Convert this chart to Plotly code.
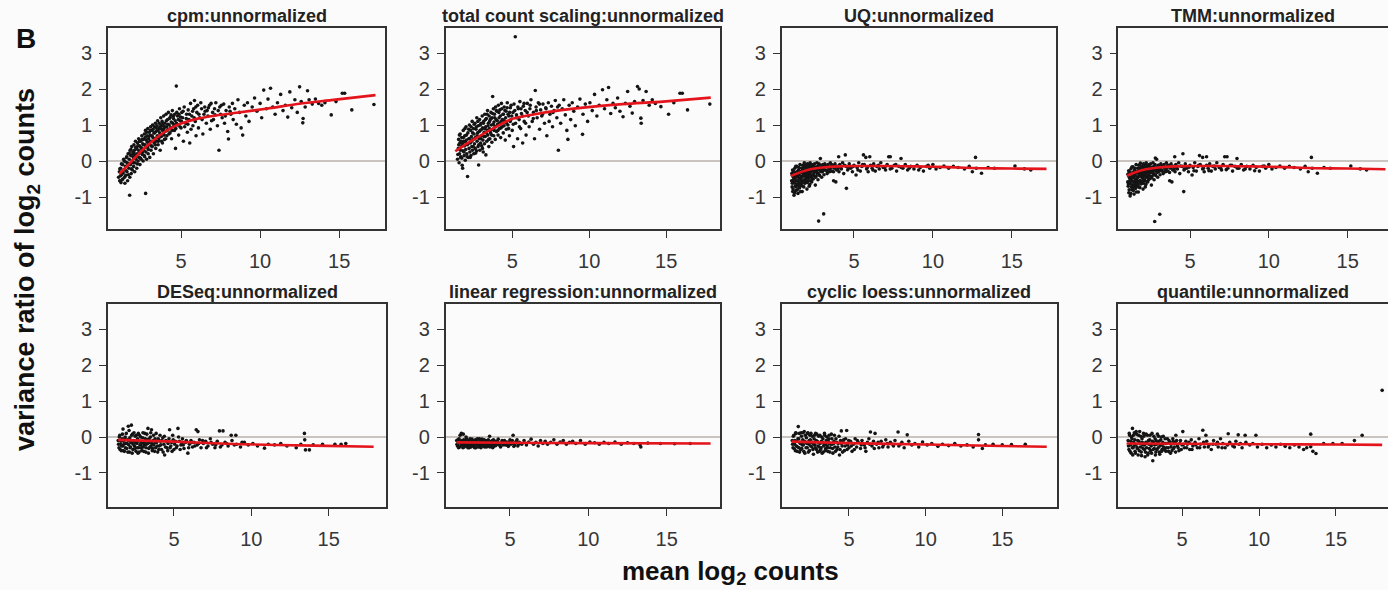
import plotly.graph_objects as go

# ---------------------------------------------------------------- data
panel_titles = [
    "cpm:unnormalized", "total count scaling:unnormalized",
    "UQ:unnormalized", "TMM:unnormalized",
    "DESeq:unnormalized", "linear regression:unnormalized",
    "cyclic loess:unnormalized", "quantile:unnormalized",
]

x_tick_vals = [5, 10, 15]
x_tick_text = ["5", "10", "15"]
y_tick_vals = [-1, 0, 1, 2, 3]
y_tick_text = ["-1", "0", "1", "2", "3"]

# (mean log2 count, variance ratio of log2 counts) per gene
cpm_points = [
    (1.05,-0.45),(1.1,-0.3),(1.12,-0.55),(1.18,-0.2),(1.2,-0.6),(1.25,-0.38),(1.3,-0.1),(1.32,-0.5),
    (1.38,-0.25),(1.4,0.0),(1.45,-0.62),(1.48,-0.15),(1.5,-0.4),(1.55,0.1),(1.58,-0.3),(1.6,-0.05),
    (1.62,-0.55),(1.65,0.2),(1.7,-0.2),(1.72,0.05),(1.75,-0.95),(1.76,-0.45),(1.78,0.3),(1.8,-0.1),
    (1.82,0.15),(1.85,-0.35),(1.88,0.4),(1.9,0.0),(1.92,-0.25),(1.95,0.25),(1.98,0.1),(2.0,-0.15),
    (2.02,0.45),(2.05,0.3),(2.08,-0.05),(2.1,0.15),(2.12,0.55),(2.15,0.05),(2.18,0.35),(2.2,-0.2),
    (2.22,0.2),(2.25,0.5),(2.28,0.0),(2.3,0.3),(2.32,0.62),(2.35,0.1),(2.38,0.42),(2.4,-0.1),
    (2.42,0.25),(2.45,0.55),(2.48,0.05),(2.5,0.35),(2.52,0.7),(2.55,0.18),(2.58,0.48),(2.6,0.0),
    (2.62,0.6),(2.65,0.3),(2.68,0.75),(2.7,0.12),(2.72,0.45),(2.75,0.85),(2.76,-0.9),(2.78,0.25),
    (2.8,0.58),(2.82,0.05),(2.85,0.7),(2.88,0.38),(2.9,0.9),(2.92,0.2),(2.95,0.62),(2.98,0.8),
    (3.0,0.45),(3.02,0.1),(3.05,0.72),(3.08,0.95),(3.1,0.3),(3.12,0.55),(3.15,0.85),(3.18,0.4),
    (3.2,1.0),(3.22,0.65),(3.25,0.2),(3.28,0.78),(3.3,0.5),(3.32,0.95),(3.35,0.62),(3.38,1.05),
    (3.4,0.35),(3.42,0.82),(3.45,0.55),(3.48,0.98),(3.5,0.7),(3.52,1.12),(3.55,0.45),(3.58,0.88),
    (3.6,0.62),(3.62,1.05),(3.65,0.78),(3.68,0.3),(3.7,0.95),(3.72,1.2),(3.75,0.68),(3.78,0.88),
    (3.8,1.1),(3.82,0.5),(3.85,0.98),(3.88,0.75),(3.9,1.25),(3.92,0.9),(3.95,0.6),(3.98,1.05),
    (4.0,0.82),(4.05,1.3),(4.08,0.95),(4.1,0.7),(4.15,1.15),(4.18,0.88),(4.2,1.35),(4.25,1.0),
    (4.3,0.78),(4.32,1.22),(4.38,1.08),(4.4,0.62),(4.45,1.4),(4.5,0.95),(4.52,1.18),(4.58,0.85),
    (4.6,1.3),(4.65,0.35),(4.7,2.08),(4.72,1.05),(4.78,1.25),(4.85,0.72),(4.9,1.45),(4.95,1.12),
    (5.0,0.92),(5.05,1.35),(5.1,1.2),(5.15,0.55),(5.2,1.5),(5.28,1.05),(5.35,1.3),(5.4,0.8),
    (5.45,1.42),(5.5,1.15),(5.55,0.5),(5.6,1.6),(5.68,1.25),(5.75,0.98),(5.8,1.45),(5.85,1.68),
    (5.9,1.1),(5.95,0.7),(6.0,1.35),(6.05,1.55),(6.1,0.92),(6.18,1.2),(6.25,1.62),(6.3,1.45),
    (6.38,0.75),(6.45,1.3),(6.5,1.5),(6.6,1.05),(6.65,1.4),(6.7,1.25),(6.8,1.55),(6.85,0.88),
    (6.9,1.6),(7.0,1.35),(7.05,1.15),(7.12,1.45),(7.2,1.62),(7.3,0.98),(7.4,0.30),(7.45,1.5),
    (7.5,1.3),(7.6,1.2),(7.7,1.58),(7.75,1.05),(7.85,1.4),(7.95,0.82),(8.0,0.61),(8.05,1.5),
    (8.15,1.3),(8.25,1.6),(8.3,1.15),(8.4,1.45),(8.5,1.02),(8.6,1.7),(8.7,1.35),(8.8,0.92),
    (8.9,0.72),(9.0,1.55),(9.1,1.25),(9.2,1.62),(9.3,1.1),(9.5,1.5),(9.65,1.75),(9.8,1.38),
    (10.0,1.6),(10.1,1.2),(10.23,1.97),(10.4,1.45),(10.5,1.72),(10.66,2.02),(10.8,1.5),(10.95,1.3),
    (11.1,1.62),(11.3,1.85),(11.45,1.4),(11.6,1.55),(11.75,1.22),(11.88,1.92),(12.0,1.48),(12.2,1.7),
    (12.35,1.35),(12.5,2.06),(12.6,1.65),(12.7,1.06),(12.72,1.18),(12.85,1.5),(13.0,1.95),(13.1,1.7),
    (13.3,1.58),(13.5,1.72),(13.7,1.6),(13.9,1.55),(14.1,1.62),(14.5,1.28),(14.8,1.65),(15.2,1.88),
    (15.35,1.88),(15.8,1.42),(17.2,1.57),
    (1.13,-0.22),(1.17,-0.41),(1.23,-0.08),(1.27,-0.52),(1.34,-0.33),(1.37,0.05),(1.43,-0.45),(1.47,-0.02),
    (1.53,-0.27),(1.57,0.12),(1.63,-0.12),(1.67,-0.38),(1.73,0.22),(1.77,-0.08),(1.83,0.32),(1.87,-0.22),
    (1.93,0.18),(1.97,-0.05),(2.03,0.22),(2.07,-0.3),(2.13,0.38),(2.17,0.12),(2.23,-0.08),(2.27,0.42),
    (2.33,0.2),(2.37,0.55),(2.43,0.08),(2.47,0.38),(2.53,0.6),(2.57,0.25),(2.63,0.45),(2.67,0.15),
    (2.73,0.65),(2.77,0.38),(2.83,0.8),(2.87,0.52),(2.93,0.32),(2.97,0.68),(3.03,0.55),(3.07,0.85),
    (3.13,0.42),(3.17,0.7),(3.23,0.88),(3.27,0.55),(3.33,0.78),(3.37,0.45),(3.43,0.92),(3.47,0.65),
    (3.53,0.85),(3.57,0.55),(3.63,0.92),(3.67,0.7),(3.73,1.0),(3.77,0.55),(3.83,0.85),(3.87,1.05),
    (3.93,0.72),(3.97,0.95),(4.03,0.62),(4.07,1.12),(4.13,0.85),(4.17,1.02),(4.23,0.75),(4.27,1.18),
    (4.33,0.92),(4.37,1.28),(4.43,0.85),(4.47,1.05),(4.53,1.25),(4.57,1.0),(4.63,1.12),(4.67,0.9),
    (4.73,1.35),(4.77,1.0),(4.83,1.15),(4.87,1.3),(4.93,0.95),(4.97,1.22),(5.03,1.1),(5.13,1.38),
    (5.23,0.95),(5.33,1.18),(5.43,1.02),(5.53,1.3),(5.63,0.88),(5.73,1.38),(5.83,1.2),(5.93,1.5),
    (6.13,1.3),(6.33,1.15),(6.53,1.38),(6.73,1.48),(6.93,1.12),(7.15,1.28),(7.35,1.4),(7.55,1.55),
    (7.8,1.25),(8.1,1.38),
]

total_points = [
    (1.45,0.05),(1.5,0.35),(1.52,0.6),(1.55,-0.05),(1.58,0.2),(1.6,0.5),(1.62,0.75),(1.65,0.1),
    (1.67,0.12),(1.7,0.4),(1.72,0.65),(1.75,-0.12),(1.78,-0.2),(1.8,0.28),(1.82,0.85),(1.85,0.55),
    (1.88,0.15),(1.9,0.42),(1.92,0.7),(1.95,0.02),(1.98,0.32),(2.0,0.95),(2.02,0.58),(2.05,0.2),
    (2.08,0.45),(2.1,-0.43),(2.12,0.78),(2.15,0.1),(2.18,0.62),(2.2,0.35),(2.22,1.0),(2.25,0.25),
    (2.28,0.5),(2.3,0.85),(2.32,0.15),(2.35,0.68),(2.38,0.4),(2.4,1.1),(2.42,0.3),(2.45,0.6),
    (2.48,0.9),(2.5,0.2),(2.52,0.75),(2.55,0.48),(2.58,1.05),(2.6,0.35),(2.62,0.65),(2.65,0.88),
    (2.68,0.28),(2.7,1.2),(2.72,0.55),(2.75,0.78),(2.78,0.4),(2.8,0.98),(2.82,-0.11),(2.85,0.62),
    (2.88,1.15),(2.9,0.3),(2.92,0.85),(2.95,0.5),(2.98,1.05),(3.0,0.7),(3.02,0.42),(3.05,1.25),
    (3.08,0.92),(3.1,0.58),(3.12,0.25),(3.15,1.1),(3.18,0.8),(3.2,0.48),(3.22,1.3),(3.25,0.68),
    (3.28,0.95),(3.29,0.17),(3.32,1.18),(3.35,0.55),(3.38,0.85),(3.4,1.4),(3.42,0.72),(3.45,1.05),
    (3.48,0.4),(3.5,1.25),(3.52,0.9),(3.55,0.62),(3.58,1.15),(3.6,0.78),(3.62,1.35),(3.65,1.0),
    (3.68,0.52),(3.7,1.2),(3.73,1.79),(3.75,0.88),(3.78,1.45),(3.8,0.7),(3.82,1.08),(3.85,1.3),
    (3.88,0.95),(3.9,0.6),(3.92,1.5),(3.95,1.15),(3.98,0.82),(4.0,1.38),(4.05,1.02),(4.08,0.72),
    (4.1,1.55),(4.15,1.2),(4.18,0.9),(4.2,1.42),(4.25,0.65),(4.28,1.1),(4.3,1.6),(4.35,0.95),
    (4.4,1.3),(4.42,0.78),(4.48,1.5),(4.5,1.12),(4.55,0.58),(4.6,1.38),(4.62,0.88),(4.68,1.62),
    (4.72,1.0),(4.78,1.25),(4.82,0.7),(4.88,1.48),(4.92,1.15),(5.0,0.85),(5.05,1.35),(5.09,0.40),
    (5.12,1.58),(5.2,3.45),(5.22,1.05),(5.28,1.28),(5.35,0.62),(5.4,1.45),(5.45,1.15),(5.5,1.65),
    (5.55,0.9),(5.6,1.32),(5.68,0.5),(5.72,1.52),(5.78,1.1),(5.85,1.4),(5.9,0.72),(5.98,1.6),
    (6.05,1.25),(6.1,0.95),(6.15,1.45),(6.22,1.7),(6.3,1.1),(6.38,1.35),(6.45,0.62),(6.5,1.96),
    (6.55,1.5),(6.62,1.2),(6.7,1.62),(6.78,0.88),(6.85,1.42),(6.92,1.25),(7.0,1.58),(7.1,1.05),
    (7.18,1.48),(7.25,0.7),(7.35,1.62),(7.45,1.3),(7.55,1.52),(7.62,0.95),(7.72,1.4),(7.8,1.68),
    (7.9,1.2),(8.0,0.30),(8.05,1.55),(8.15,1.05),(8.25,1.45),(8.35,1.7),(8.45,1.28),(8.55,0.85),
    (8.62,0.60),(8.7,1.55),(8.8,1.15),(8.9,1.62),(9.0,1.38),(9.1,0.98),(9.25,1.5),(9.4,1.72),
    (9.57,0.74),(9.6,1.3),(9.75,1.58),(9.9,1.1),(10.05,1.62),(10.2,1.4),(10.35,1.85),(10.5,1.25),
    (10.65,1.55),(10.87,1.98),(11.0,1.45),(11.15,1.7),(11.26,2.04),(11.4,1.32),(11.55,1.6),(11.7,1.48),
    (11.85,1.75),(12.0,1.38),(12.2,1.23),(12.35,1.6),(12.5,1.93),(12.65,1.52),(12.8,1.33),(12.95,1.65),
    (13.14,2.07),(13.25,2.0),(13.36,1.19),(13.38,1.05),(13.5,1.68),(13.7,1.93),(13.9,1.55),(14.1,1.70),
    (14.3,1.6),(14.66,1.51),(15.16,1.30),(15.5,1.62),(15.9,1.88),(16.05,1.88),(16.39,1.42),(17.84,1.58),
    (1.47,0.18),(1.53,0.45),(1.57,0.72),(1.63,0.3),(1.68,0.55),(1.73,0.08),(1.77,0.48),(1.83,0.65),
    (1.87,0.25),(1.93,0.9),(1.97,0.52),(2.03,0.72),(2.07,0.12),(2.13,0.48),(2.17,0.88),(2.23,0.62),
    (2.27,0.1),(2.33,0.95),(2.37,0.55),(2.43,0.78),(2.47,0.4),(2.53,1.02),(2.57,0.62),(2.63,0.22),
    (2.67,0.95),(2.73,0.7),(2.77,1.1),(2.83,0.45),(2.87,0.82),(2.93,1.0),(2.97,0.62),(3.03,0.88),
    (3.07,0.35),(3.13,1.05),(3.17,0.68),(3.23,0.9),(3.27,1.15),(3.33,0.78),(3.37,1.3),(3.43,0.98),
    (3.47,0.6),(3.53,1.1),(3.57,0.85),(3.63,1.18),(3.67,0.72),(3.73,1.32),(3.77,1.02),(3.83,0.85),
    (3.87,1.2),(3.93,0.95),(3.97,1.4),(4.03,1.12),(4.07,0.85),(4.13,1.35),(4.17,1.05),(4.23,1.25),
    (4.27,0.92),(4.33,1.45),(4.37,1.15),(4.43,1.3),(4.47,0.98),(4.53,1.4),(4.57,1.2),(4.63,1.05),
    (4.67,1.48),(4.73,1.3),(4.77,0.9),(4.83,1.35),(4.87,1.1),(4.93,1.55),(4.97,1.25),(5.07,1.02),
    (5.17,1.4),(5.27,1.2),(5.37,1.5),(5.47,0.95),(5.57,1.45),(5.67,1.25),(5.77,1.6),(5.87,1.05),
    (5.97,1.35),(6.17,1.55),(6.37,1.18),(6.57,1.4),(6.77,1.58),(6.97,1.3),(7.2,1.45),(7.4,1.1),
    (7.65,1.35),(7.95,1.5),
]

uq_points = [
    (1.05,-0.55),(1.08,-0.72),(1.1,-0.4),(1.12,-0.85),(1.15,-0.3),(1.18,-0.6),(1.2,-0.95),(1.22,-0.48),
    (1.25,-0.2),(1.28,-0.7),(1.3,-0.35),(1.32,-0.82),(1.35,-0.55),(1.38,-0.15),(1.4,-0.65),(1.42,-0.42),
    (1.45,-0.9),(1.48,-0.25),(1.5,-0.58),(1.52,-0.38),(1.55,-0.75),(1.58,-0.1),(1.6,-0.5),(1.62,-0.3),
    (1.65,-0.68),(1.68,-0.2),(1.7,-0.45),(1.72,-0.85),(1.75,-0.12),(1.78,-0.55),(1.8,-0.35),(1.82,-0.72),
    (1.85,-0.05),(1.88,-0.42),(1.9,-0.25),(1.92,-0.6),(1.95,-0.15),(1.98,-0.48),(2.0,-0.32),(2.02,-0.78),
    (2.05,-0.08),(2.08,-0.4),(2.1,-0.22),(2.12,-0.55),(2.15,-0.12),(2.18,-0.35),(2.2,-0.65),(2.22,-0.05),
    (2.25,-0.28),(2.28,-0.45),(2.3,-0.15),(2.32,-0.58),(2.35,-0.2),(2.38,-0.38),(2.4,-0.1),(2.42,-0.5),
    (2.45,-0.25),(2.48,-0.32),(2.5,-0.08),(2.55,-0.67),(2.58,-0.18),(2.6,-0.42),(2.62,-0.28),(2.65,-0.05),
    (2.68,-0.35),(2.7,-0.15),(2.72,-0.52),(2.75,-0.22),(2.76,-1.67),(2.8,-0.1),(2.82,-0.4),(2.85,-0.28),
    (2.87,0.07),(2.9,-0.18),(2.95,-0.45),(2.98,-0.12),(3.0,-0.3),(3.05,-0.2),(3.08,-1.47),(3.1,-0.38),
    (3.15,-0.08),(3.2,-0.25),(3.25,-0.15),(3.3,-0.35),(3.35,-0.1),(3.4,-0.22),(3.45,-0.3),(3.5,-0.05),
    (3.55,-0.18),(3.6,-0.28),(3.65,-0.12),(3.71,-0.55),(3.75,-0.2),(3.8,-0.08),(3.85,-0.58),(3.9,-0.25),
    (3.95,-0.15),(4.03,0.12),(4.05,-0.3),(4.1,-0.1),(4.2,-0.22),(4.28,-0.05),(4.35,-0.35),(4.45,0.17),
    (4.5,-0.15),(4.52,-0.76),(4.6,-0.25),(4.7,-0.08),(4.8,-0.2),(4.9,-0.3),(5.0,-0.12),(5.13,-0.39),
    (5.2,-0.18),(5.3,-0.05),(5.4,-0.28),(5.5,-0.15),(5.6,0.17),(5.65,-0.1),(5.75,0.1),(5.8,-0.22),
    (5.9,-0.3),(6.0,0.12),(6.05,-0.12),(6.15,-0.2),(6.25,-0.08),(6.35,-0.28),(6.45,-0.15),(6.6,-0.22),
    (6.7,-0.05),(6.85,-0.18),(7.0,-0.25),(7.1,-0.1),(7.2,0.12),(7.3,0.12),(7.4,-0.2),(7.55,-0.12),
    (7.7,-0.28),(7.85,-0.15),(7.98,0.07),(8.1,-0.2),(8.25,-0.1),(8.4,-0.25),(8.6,-0.15),(8.8,-0.22),
    (9.0,-0.12),(9.2,-0.18),(9.4,-0.28),(9.6,-0.15),(9.8,-0.2),(10.0,-0.1),(10.2,-0.22),(10.45,-0.18),
    (10.7,-0.14),(11.0,-0.2),(11.3,-0.15),(11.6,-0.18),(12.0,-0.22),(12.3,-0.15),(12.5,-0.3),(12.7,0.10),
    (12.75,-0.2),(13.08,-0.34),(13.5,-0.18),(13.9,-0.2),(15.2,-0.14),(15.8,-0.22),(16.2,-0.25),
    (1.06,-0.35),(1.09,-0.62),(1.11,-0.25),(1.14,-0.78),(1.16,-0.45),(1.19,-0.52),(1.21,-0.3),(1.24,-0.88),
    (1.26,-0.62),(1.29,-0.42),(1.31,-0.15),(1.34,-0.72),(1.36,-0.45),(1.39,-0.3),(1.41,-0.8),(1.44,-0.55),
    (1.46,-0.35),(1.49,-0.68),(1.51,-0.18),(1.54,-0.48),(1.56,-0.62),(1.59,-0.3),(1.61,-0.85),(1.64,-0.42),
    (1.66,-0.55),(1.69,-0.32),(1.71,-0.62),(1.74,-0.25),(1.76,-0.7),(1.79,-0.4),(1.81,-0.18),(1.84,-0.52),
    (1.86,-0.32),(1.89,-0.62),(1.91,-0.12),(1.94,-0.38),(1.96,-0.55),(1.99,-0.22),(2.01,-0.42),(2.04,-0.6),
    (2.06,-0.28),(2.09,-0.15),(2.11,-0.48),(2.14,-0.3),(2.16,-0.7),(2.19,-0.2),(2.21,-0.42),(2.24,-0.1),
    (2.26,-0.55),(2.29,-0.3),(2.31,-0.4),(2.34,-0.12),(2.36,-0.5),(2.39,-0.25),(2.44,-0.4),(2.47,-0.15),
    (2.52,-0.3),(2.57,-0.45),(2.63,-0.18),(2.67,-0.25),(2.73,-0.35),(2.78,-0.08),(2.84,-0.2),(2.92,-0.3),
    (2.97,-0.22),(3.03,-0.1),(3.12,-0.25),(3.18,-0.15),(3.28,-0.28),(3.38,-0.15),(3.48,-0.22),(3.58,-0.1),
    (3.7,-0.3),(3.82,-0.15),(3.98,-0.22),(4.15,-0.18),(4.4,-0.12),(4.65,-0.2),(4.95,-0.15),(5.25,-0.25),
    (5.55,-0.1),(5.85,-0.18),(6.2,-0.25),(6.55,-0.12),(6.95,-0.18),(7.3,-0.22),(7.65,-0.1),(8.0,-0.18),
    (8.5,-0.2),(9.1,-0.25),(9.7,-0.12),
]

tmm_points = [
    (1.05,-0.58),(1.08,-0.7),(1.1,-0.42),(1.12,-0.88),(1.15,-0.32),(1.18,-0.62),(1.2,-0.97),(1.22,-0.5),
    (1.25,-0.22),(1.28,-0.72),(1.3,-0.36),(1.32,-0.8),(1.35,-0.56),(1.38,-0.16),(1.4,-0.66),(1.42,-0.44),
    (1.45,-0.92),(1.48,-0.26),(1.5,-0.6),(1.52,-0.4),(1.55,-0.76),(1.58,-0.1),(1.6,-0.52),(1.62,-0.3),
    (1.65,-0.7),(1.68,-0.2),(1.7,-0.46),(1.72,-0.86),(1.75,-0.12),(1.78,-0.56),(1.8,-0.36),(1.82,-0.74),
    (1.85,-0.06),(1.88,-0.42),(1.9,-0.26),(1.92,-0.62),(1.95,-0.16),(1.98,-0.48),(2.0,-0.32),(2.02,-0.78),
    (2.05,-0.08),(2.08,-0.4),(2.1,-0.22),(2.12,-0.55),(2.15,-0.12),(2.18,-0.35),(2.2,-0.65),(2.22,-0.05),
    (2.25,-0.28),(2.28,-0.45),(2.3,-0.15),(2.32,-0.58),(2.35,-0.2),(2.38,-0.38),(2.4,-0.1),(2.42,-0.5),
    (2.45,-0.25),(2.48,-0.32),(2.5,-0.08),(2.55,-0.67),(2.58,-0.18),(2.6,-0.42),(2.62,-0.28),(2.65,-0.05),
    (2.68,-0.35),(2.7,-0.15),(2.72,-0.52),(2.75,-0.22),(2.76,-1.68),(2.8,0.08),(2.82,-0.4),(2.85,-0.28),
    (2.88,0.05),(2.9,-0.18),(2.95,-0.45),(2.98,-0.12),(3.0,-0.3),(3.05,-0.2),(3.08,-1.48),(3.1,-0.38),
    (3.15,-0.08),(3.2,-0.25),(3.25,-0.15),(3.3,-0.35),(3.35,-0.1),(3.4,-0.22),(3.45,-0.3),(3.5,-0.05),
    (3.55,-0.18),(3.6,-0.28),(3.65,-0.12),(3.71,-0.55),(3.75,-0.2),(3.8,-0.08),(3.85,-0.58),(3.9,-0.25),
    (3.95,-0.15),(4.03,0.12),(4.05,-0.3),(4.1,-0.1),(4.2,-0.22),(4.28,-0.05),(4.35,-0.35),(4.55,0.2),
    (4.5,-0.15),(4.6,-0.85),(4.62,-0.25),(4.7,-0.08),(4.8,-0.2),(4.9,-0.3),(5.0,-0.12),(5.13,-0.39),
    (5.2,-0.18),(5.3,-0.05),(5.4,-0.28),(5.5,-0.15),(5.6,0.15),(5.65,-0.1),(5.8,0.1),(5.8,-0.22),
    (5.9,-0.3),(6.05,0.12),(6.05,-0.12),(6.15,-0.2),(6.25,-0.08),(6.35,-0.28),(6.45,-0.15),(6.6,-0.22),
    (6.7,-0.05),(6.85,-0.18),(7.0,-0.25),(7.1,-0.1),(7.2,0.12),(7.35,0.12),(7.4,-0.2),(7.55,-0.12),
    (7.7,-0.28),(7.85,-0.15),(7.98,0.07),(8.1,-0.2),(8.25,-0.1),(8.4,-0.25),(8.6,-0.15),(8.8,-0.22),
    (9.0,-0.12),(9.2,-0.18),(9.4,-0.28),(9.6,-0.15),(9.8,-0.2),(10.0,-0.1),(10.2,-0.22),(10.45,-0.18),
    (10.7,-0.14),(11.0,-0.2),(11.3,-0.15),(11.6,-0.18),(12.0,-0.22),(12.3,-0.15),(12.5,-0.3),(12.7,0.10),
    (12.75,-0.2),(13.08,-0.34),(13.5,-0.18),(13.9,-0.2),(15.2,-0.14),(15.8,-0.22),(16.2,-0.25),
    (1.06,-0.37),(1.09,-0.64),(1.11,-0.27),(1.14,-0.8),(1.16,-0.47),(1.19,-0.54),(1.21,-0.32),(1.24,-0.9),
    (1.26,-0.64),(1.29,-0.44),(1.31,-0.17),(1.34,-0.74),(1.36,-0.47),(1.39,-0.32),(1.41,-0.82),(1.44,-0.57),
    (1.46,-0.37),(1.49,-0.7),(1.51,-0.2),(1.54,-0.5),(1.56,-0.64),(1.59,-0.32),(1.61,-0.86),(1.64,-0.44),
    (1.66,-0.57),(1.69,-0.34),(1.71,-0.64),(1.74,-0.27),(1.76,-0.72),(1.79,-0.42),(1.81,-0.2),(1.84,-0.54),
    (1.86,-0.34),(1.89,-0.64),(1.91,-0.14),(1.94,-0.4),(1.96,-0.57),(1.99,-0.24),(2.01,-0.44),(2.04,-0.62),
    (2.06,-0.3),(2.09,-0.17),(2.11,-0.5),(2.14,-0.32),(2.16,-0.72),(2.19,-0.22),(2.21,-0.44),(2.24,-0.12),
    (2.26,-0.57),(2.29,-0.32),(2.31,-0.42),(2.34,-0.14),(2.36,-0.52),(2.39,-0.27),(2.44,-0.42),(2.47,-0.17),
    (2.52,-0.32),(2.57,-0.47),(2.63,-0.2),(2.67,-0.27),(2.73,-0.37),(2.78,-0.1),(2.84,-0.22),(2.92,-0.32),
    (2.97,-0.24),(3.03,-0.12),(3.12,-0.27),(3.18,-0.17),(3.28,-0.3),(3.38,-0.17),(3.48,-0.24),(3.58,-0.12),
    (3.7,-0.32),(3.82,-0.17),(3.98,-0.24),(4.15,-0.2),(4.4,-0.14),(4.65,-0.22),(4.95,-0.17),(5.25,-0.27),
    (5.55,-0.12),(5.85,-0.2),(6.2,-0.27),(6.55,-0.14),(6.95,-0.2),(7.3,-0.24),(7.65,-0.12),(8.0,-0.2),
    (8.5,-0.22),(9.1,-0.27),(9.7,-0.14),
]

deseq_points = [
    (1.4,-0.1),(1.45,-0.3),(1.5,0.05),(1.55,-0.2),(1.6,-0.38),(1.65,-0.05),(1.7,-0.25),(1.71,0.22),
    (1.75,-0.12),(1.8,-0.4),(1.85,0.0),(1.9,-0.18),(1.95,-0.32),(2.0,-0.08),(2.05,0.3),(2.08,-0.22),
    (2.12,-0.42),(2.15,-0.02),(2.2,-0.28),(2.25,0.33),(2.28,-0.15),(2.32,0.08),(2.35,-0.35),(2.4,-0.1),
    (2.45,-0.25),(2.5,0.02),(2.55,-0.4),(2.6,-0.18),(2.65,-0.05),(2.68,-0.45),(2.72,-0.3),(2.78,0.05),
    (2.82,-0.12),(2.88,-0.22),(2.92,-0.38),(2.98,-0.02),(3.02,-0.28),(3.08,-0.15),(3.12,0.1),(3.18,-0.42),
    (3.22,-0.2),(3.28,-0.08),(3.32,0.24),(3.38,-0.32),(3.42,-0.15),(3.48,0.0),(3.52,-0.25),(3.55,0.2),
    (3.6,-0.38),(3.65,-0.1),(3.7,-0.22),(3.78,-0.05),(3.82,-0.3),(3.88,-0.15),(3.95,-0.42),(4.0,-0.08),
    (4.05,-0.25),(4.12,-0.12),(4.2,-0.35),(4.28,-0.02),(4.35,-0.2),(4.4,-0.5),(4.48,-0.1),(4.55,-0.3),
    (4.62,-0.18),(4.72,0.2),(4.8,-0.25),(4.88,-0.4),(4.95,-0.08),(5.05,-0.2),(5.15,-0.3),(5.26,0.24),
    (5.35,-0.12),(5.45,-0.22),(5.55,-0.05),(5.65,-0.32),(5.75,-0.15),(5.9,-0.45),(6.0,-0.2),(6.1,-0.1),
    (6.2,-0.28),(6.3,-0.15),(6.44,0.2),(6.5,-0.22),(6.55,0.15),(6.65,-0.08),(6.75,-0.3),(6.9,-0.18),
    (7.05,-0.12),(7.2,-0.25),(7.35,-0.05),(7.5,-0.2),(7.65,-0.3),(7.8,-0.12),(7.94,0.17),(8.1,-0.22),
    (8.17,0.17),(8.3,-0.15),(8.5,-0.25),(8.7,0.05),(8.75,-0.1),(9.0,0.05),(9.05,-0.2),(9.3,-0.28),
    (9.55,-0.15),(9.8,-0.22),(10.1,-0.18),(10.4,-0.25),(10.85,-0.31),(11.1,-0.2),(11.5,-0.22),(11.9,-0.18),
    (12.3,-0.25),(12.9,-0.3),(13.2,-0.2),(13.43,0.10),(13.45,-0.08),(13.5,-0.36),(13.75,-0.36),(14.0,-0.22),
    (14.6,-0.2),(15.4,-0.2),(15.8,-0.2),(16.1,-0.18),
    (1.42,-0.2),(1.47,0.0),(1.52,-0.35),(1.57,-0.12),(1.62,-0.25),(1.67,0.08),(1.72,-0.38),(1.77,-0.2),
    (1.82,-0.05),(1.87,-0.3),(1.92,0.1),(1.97,-0.18),(2.02,-0.42),(2.07,-0.1),(2.1,0.18),(2.17,-0.3),
    (2.22,-0.15),(2.27,0.05),(2.3,-0.45),(2.37,-0.2),(2.42,0.12),(2.47,-0.32),(2.52,-0.15),(2.57,0.05),
    (2.62,-0.3),(2.67,-0.12),(2.7,0.1),(2.75,-0.42),(2.8,-0.22),(2.85,0.0),(2.9,-0.3),(2.95,-0.15),
    (3.0,0.12),(3.05,-0.4),(3.1,-0.22),(3.15,-0.05),(3.2,-0.3),(3.25,0.08),(3.3,-0.18),(3.35,-0.45),
    (3.4,-0.05),(3.45,-0.28),(3.5,0.12),(3.58,-0.18),(3.62,-0.32),(3.68,0.05),(3.75,-0.4),(3.8,-0.15),
    (3.85,0.1),(3.92,-0.25),(3.98,-0.05),(4.02,-0.35),(4.1,0.05),(4.15,-0.22),(4.22,-0.1),(4.3,-0.42),
    (4.38,0.02),(4.45,-0.28),(4.52,-0.12),(4.6,-0.38),(4.68,-0.05),(4.75,-0.3),(4.85,-0.15),(4.92,0.05),
    (5.0,-0.35),(5.1,-0.12),(5.2,-0.25),(5.3,0.0),(5.4,-0.35),(5.5,-0.15),(5.6,-0.22),(5.8,-0.1),
    (5.95,-0.3),(6.15,-0.15),(6.35,-0.25),(6.6,-0.18),(6.85,-0.1),(7.1,-0.3),(7.4,-0.15),(7.7,-0.22),
    (8.0,-0.28),(8.4,-0.18),(8.9,-0.22),(9.4,-0.15),
]

linreg_points = [
    (1.6,-0.1),(1.65,-0.25),(1.7,-0.18),(1.75,-0.05),(1.8,-0.28),(1.85,-0.12),(1.9,0.1),(1.95,-0.2),
    (2.0,-0.3),(2.05,-0.08),(2.1,-0.22),(2.15,-0.15),(2.2,0.0),(2.25,-0.26),(2.3,-0.12),(2.35,-0.2),
    (2.4,-0.3),(2.45,-0.05),(2.5,-0.18),(2.55,-0.25),(2.6,-0.1),(2.65,-0.22),(2.7,-0.15),(2.75,-0.3),
    (2.8,-0.08),(2.85,-0.2),(2.9,-0.12),(2.95,-0.27),(3.0,-0.16),(3.05,-0.05),(3.1,-0.22),(3.15,-0.3),
    (3.2,-0.12),(3.25,-0.18),(3.3,-0.25),(3.35,-0.08),(3.4,-0.2),(3.45,-0.14),(3.5,-0.28),(3.55,-0.1),
    (3.6,-0.22),(3.65,-0.16),(3.7,0.02),(3.75,-0.25),(3.8,-0.12),(3.85,-0.2),(3.9,-0.3),(3.95,-0.08),
    (4.0,-0.18),(4.1,-0.24),(4.2,-0.12),(4.3,-0.2),(4.4,-0.28),(4.5,-0.1),(4.6,-0.16),(4.7,-0.22),
    (4.8,-0.14),(4.9,-0.26),(5.0,-0.08),(5.1,-0.18),(5.2,0.05),(5.3,-0.22),(5.4,-0.12),(5.5,-0.25),
    (5.6,-0.15),(5.75,-0.2),(5.9,-0.1),(6.05,-0.22),(6.2,-0.14),(6.35,-0.06),(6.5,-0.2),(6.65,-0.15),
    (6.8,-0.25),(6.95,-0.1),(7.1,-0.18),(7.25,-0.12),(7.4,-0.2),(7.6,-0.15),(7.8,-0.08),(8.0,-0.2),
    (8.2,-0.14),(8.4,-0.1),(8.6,-0.2),(8.8,-0.15),(9.0,-0.12),(9.2,-0.18),(9.5,-0.1),(9.8,-0.2),
    (10.1,-0.14),(10.4,-0.16),(10.7,-0.2),(11.0,-0.15),(11.3,-0.18),(11.7,-0.14),(12.1,-0.2),(12.5,-0.16),
    (12.9,-0.18),(13.3,-0.22),(13.35,-0.28),(13.8,-0.17),(14.6,-0.18),(15.5,-0.19),(16.5,-0.18),
    (1.62,-0.2),(1.68,-0.08),(1.72,-0.3),(1.78,-0.15),(1.82,0.05),(1.88,-0.24),(1.92,-0.1),(1.98,-0.18),
    (2.02,0.08),(2.08,-0.28),(2.12,-0.12),(2.18,-0.22),(2.22,-0.05),(2.28,-0.18),(2.32,-0.3),(2.38,-0.1),
    (2.42,-0.22),(2.48,-0.14),(2.52,-0.28),(2.58,-0.06),(2.62,-0.18),(2.68,-0.26),(2.72,-0.1),(2.78,-0.2),
    (2.82,-0.3),(2.88,-0.14),(2.92,-0.05),(2.98,-0.22),(3.02,-0.28),(3.08,-0.12),(3.12,-0.18),(3.18,-0.25),
    (3.22,-0.06),(3.28,-0.2),(3.32,-0.14),(3.38,-0.28),(3.42,-0.1),(3.48,-0.2),(3.52,-0.16),(3.58,-0.26),
    (3.62,-0.08),(3.68,-0.2),(3.72,-0.28),(3.78,-0.14),(3.82,-0.22),(3.88,-0.1),(3.92,-0.18),(3.98,-0.26),
    (4.05,-0.12),(4.15,-0.2),(4.25,-0.06),(4.35,-0.24),(4.45,-0.16),(4.55,-0.22),(4.65,-0.1),(4.75,-0.18),
    (4.85,-0.24),(4.95,-0.14),(5.05,-0.2),(5.15,-0.1),(5.25,-0.26),(5.35,-0.16),(5.45,-0.08),(5.55,-0.2),
]

cyclic_points = [
    (1.3,-0.1),(1.35,-0.3),(1.4,0.05),(1.45,-0.2),(1.5,-0.38),(1.55,0.1),(1.6,-0.12),(1.65,-0.28),
    (1.69,0.29),(1.72,-0.05),(1.78,-0.42),(1.82,-0.18),(1.88,0.12),(1.92,-0.32),(1.98,-0.08),(2.02,-0.22),
    (2.08,0.15),(2.12,-0.45),(2.18,-0.15),(2.22,-0.02),(2.28,-0.3),(2.32,0.12),(2.38,-0.2),(2.42,-0.38),
    (2.48,-0.08),(2.52,0.1),(2.58,-0.28),(2.62,-0.15),(2.68,-0.48),(2.72,-0.05),(2.78,-0.22),(2.82,0.1),
    (2.88,-0.35),(2.92,-0.12),(2.98,-0.25),(3.02,0.02),(3.08,-0.4),(3.12,-0.18),(3.18,-0.3),(3.22,0.0),
    (3.28,-0.15),(3.32,-0.42),(3.38,-0.22),(3.42,0.05),(3.48,-0.32),(3.52,-0.1),(3.58,-0.25),(3.62,-0.4),
    (3.68,-0.05),(3.72,-0.18),(3.78,-0.3),(3.85,0.08),(3.9,-0.2),(3.95,-0.45),(4.02,-0.12),(4.08,-0.28),
    (4.15,-0.05),(4.22,-0.35),(4.3,-0.18),(4.38,-0.5),(4.45,-0.1),(4.5,0.17),(4.55,-0.25),(4.62,-0.15),
    (4.7,-0.38),(4.78,-0.05),(4.85,0.18),(4.92,-0.22),(5.0,-0.3),(5.1,-0.12),(5.2,-0.4),(5.3,-0.2),
    (5.4,-0.05),(5.5,-0.28),(5.6,-0.15),(5.75,-0.32),(5.85,-0.1),(6.0,-0.22),(6.1,-0.4),(6.2,-0.15),
    (6.3,-0.05),(6.4,0.14),(6.5,-0.25),(6.6,-0.12),(6.7,0.1),(6.8,-0.2),(6.95,-0.3),(7.1,-0.12),
    (7.25,-0.22),(7.4,-0.08),(7.55,-0.28),(7.7,-0.15),(7.85,-0.2),(8.0,-0.1),(8.2,0.14),(8.25,-0.25),
    (8.45,-0.15),(8.6,-0.3),(8.8,0.06),(8.9,-0.12),(9.1,-0.22),(9.3,-0.18),(9.55,-0.28),(9.8,-0.14),
    (10.1,-0.22),(10.4,-0.18),(10.8,-0.26),(11.1,-0.2),(11.5,-0.24),(11.9,-0.18),(12.3,-0.25),(12.7,-0.22),
    (13.1,-0.28),(13.45,0.07),(13.45,-0.08),(13.7,-0.32),(13.9,-0.22),(14.4,-0.2),(15.0,-0.22),(15.6,-0.21),
    (16.5,-0.2),
    (1.32,-0.2),(1.37,0.02),(1.42,-0.32),(1.47,-0.1),(1.52,0.12),(1.57,-0.25),(1.62,-0.4),(1.67,-0.05),
    (1.74,-0.3),(1.76,0.1),(1.8,-0.15),(1.85,-0.35),(1.9,0.02),(1.95,-0.22),(2.0,0.12),(2.05,-0.4),
    (2.1,-0.12),(2.15,0.05),(2.2,-0.3),(2.25,-0.18),(2.3,0.1),(2.35,-0.42),(2.4,-0.1),(2.45,0.05),
    (2.5,-0.25),(2.55,-0.15),(2.6,0.02),(2.65,-0.35),(2.7,-0.2),(2.75,0.05),(2.8,-0.3),(2.85,-0.1),
    (2.9,0.08),(2.95,-0.42),(3.0,-0.15),(3.05,-0.28),(3.1,0.05),(3.15,-0.35),(3.2,-0.12),(3.25,-0.45),
    (3.3,-0.05),(3.35,-0.25),(3.4,0.1),(3.45,-0.38),(3.5,-0.18),(3.55,0.0),(3.6,-0.3),(3.65,-0.12),
    (3.7,0.05),(3.75,-0.42),(3.8,-0.2),(3.88,-0.05),(3.93,-0.32),(4.0,-0.18),(4.05,0.05),(4.12,-0.4),
    (4.2,-0.15),(4.27,-0.28),(4.35,0.02),(4.42,-0.35),(4.5,-0.18),(4.58,-0.42),(4.65,-0.08),(4.75,-0.25),
    (4.88,-0.35),(4.98,-0.1),(5.15,-0.25),(5.35,-0.35),(5.55,-0.1),(5.8,-0.22),(6.05,-0.3),(6.35,-0.2),
    (6.65,-0.32),(6.9,-0.15),(7.2,-0.28),(7.5,-0.18),(7.9,-0.25),(8.35,-0.2),
]

quantile_points = [
    (1.5,-0.1),(1.55,-0.35),(1.6,0.05),(1.65,-0.22),(1.7,-0.45),(1.75,-0.05),(1.78,0.24),(1.82,-0.3),
    (1.86,-0.15),(1.9,0.12),(1.95,-0.4),(2.0,-0.2),(2.05,0.08),(2.1,-0.32),(2.15,-0.5),(2.2,-0.12),
    (2.25,0.15),(2.3,-0.28),(2.35,-0.42),(2.4,-0.05),(2.45,-0.22),(2.5,0.1),(2.55,-0.35),(2.6,-0.55),
    (2.65,-0.15),(2.7,-0.3),(2.75,0.05),(2.8,-0.45),(2.85,-0.2),(2.9,-0.08),(2.95,-0.38),(3.0,-0.25),
    (3.05,0.1),(3.1,-0.66),(3.15,-0.15),(3.2,-0.32),(3.25,-0.05),(3.3,-0.42),(3.35,-0.2),(3.4,0.08),
    (3.45,-0.3),(3.5,-0.12),(3.55,-0.48),(3.6,-0.22),(3.65,0.0),(3.7,-0.35),(3.75,-0.15),(3.8,-0.28),
    (3.9,-0.05),(3.95,-0.4),(4.0,-0.18),(4.1,-0.3),(4.15,-0.1),(4.25,-0.45),(4.3,-0.2),(4.4,-0.05),
    (4.45,-0.32),(4.55,-0.15),(4.6,0.05),(4.7,-0.25),(4.8,-0.38),(4.9,-0.1),(5.0,-0.22),(5.05,0.15),
    (5.15,-0.3),(5.25,-0.12),(5.35,-0.2),(5.5,-0.35),(5.6,-0.08),(5.7,-0.25),(5.85,-0.15),(6.0,-0.3),
    (6.1,-0.05),(6.2,-0.2),(6.35,0.19),(6.45,-0.28),(6.55,0.05),(6.6,-0.12),(6.75,-0.22),(6.9,-0.35),
    (7.05,-0.1),(7.2,-0.2),(7.35,-0.28),(7.5,-0.05),(7.65,-0.18),(7.8,-0.3),(8.0,0.09),(8.1,-0.15),
    (8.3,-0.25),(8.5,-0.12),(8.65,0.06),(8.7,-0.2),(8.9,-0.3),(9.1,0.05),(9.15,-0.15),(9.4,-0.22),
    (9.6,-0.18),(9.8,0.05),(9.9,-0.28),(10.2,-0.2),(10.5,-0.3),(10.8,-0.22),(11.1,-0.28),(11.4,-0.2),
    (11.7,-0.26),(12.0,-0.3),(12.3,-0.22),(12.6,-0.28),(12.9,-0.35),(13.1,-0.3),(13.36,0.08),(13.36,-0.27),
    (13.5,-0.4),(13.7,-0.46),(14.2,-0.18),(14.8,-0.18),(15.4,-0.18),(16.2,-0.1),(16.7,0.05),(18.0,1.3),
    (1.52,-0.25),(1.57,0.1),(1.62,-0.4),(1.67,-0.12),(1.72,0.0),(1.77,-0.3),(1.8,-0.5),(1.84,0.05),
    (1.88,-0.25),(1.93,-0.08),(1.97,-0.45),(2.02,0.15),(2.07,-0.28),(2.12,-0.1),(2.17,0.05),(2.22,-0.38),
    (2.27,-0.18),(2.32,0.02),(2.37,-0.52),(2.42,-0.15),(2.47,-0.32),(2.52,0.02),(2.57,-0.22),(2.62,-0.42),
    (2.67,0.08),(2.72,-0.18),(2.77,-0.5),(2.82,-0.1),(2.87,-0.32),(2.92,0.05),(2.97,-0.2),(3.02,-0.45),
    (3.07,-0.12),(3.12,-0.35),(3.17,0.02),(3.22,-0.22),(3.27,-0.5),(3.32,-0.1),(3.37,-0.35),(3.42,-0.18),
    (3.47,0.02),(3.52,-0.42),(3.57,-0.25),(3.62,-0.08),(3.68,-0.4),(3.72,-0.2),(3.78,0.02),(3.85,-0.35),
    (3.92,-0.18),(3.98,-0.3),(4.05,-0.05),(4.12,-0.4),(4.2,-0.15),(4.28,-0.28),(4.35,-0.38),(4.42,-0.12),
    (4.5,-0.28),(4.58,-0.42),(4.65,-0.1),(4.75,-0.3),(4.85,-0.18),(4.95,-0.35),(5.1,-0.2),(5.3,-0.3),
    (5.45,-0.15),(5.65,-0.35),(5.9,-0.22),(6.15,-0.3),(6.4,-0.15),(6.7,-0.28),(7.0,-0.2),(7.3,-0.15),
    (7.6,-0.3),(7.95,-0.22),(8.4,-0.28),(8.8,-0.18),
]

# loess trend curves (x, y)
cpm_fit = ([1.1, 1.5, 2.0, 2.5, 3.0, 3.5, 4.0, 4.5, 5.0, 6.0, 7.0, 8.5, 10.5, 12.5, 14.5, 17.3],
           [-0.36, -0.18, 0.05, 0.28, 0.48, 0.66, 0.82, 0.95, 1.04, 1.17, 1.25, 1.34, 1.46, 1.59, 1.69, 1.83])
total_fit = ([1.3, 2.0, 2.9, 4.0, 5.0, 6.2, 8.3, 11.5, 14.8, 17.9],
             [0.27, 0.47, 0.70, 0.96, 1.17, 1.28, 1.42, 1.56, 1.65, 1.76])
uq_fit = ([1.0, 1.5, 2.0, 2.5, 3.0, 4.0, 5.0, 7.0, 9.0, 11.0, 13.0, 15.0, 17.2],
          [-0.42, -0.33, -0.26, -0.21, -0.18, -0.15, -0.14, -0.14, -0.15, -0.17, -0.20, -0.21, -0.22])
tmm_fit = ([1.0, 1.5, 2.0, 2.5, 3.0, 4.0, 5.0, 7.0, 9.0, 11.0, 13.0, 15.0, 17.4],
           [-0.41, -0.32, -0.25, -0.21, -0.18, -0.15, -0.14, -0.14, -0.15, -0.17, -0.20, -0.21, -0.23])
deseq_fit = ([1.4, 5.0, 9.3, 14.0, 17.9], [-0.08, -0.13, -0.20, -0.24, -0.27])
linreg_fit = ([1.6, 5.0, 10.0, 17.8], [-0.15, -0.16, -0.17, -0.18])
cyclic_fit = ([1.26, 5.0, 10.0, 15.0, 17.9], [-0.13, -0.17, -0.21, -0.25, -0.27])
quantile_fit = ([1.4, 5.0, 10.0, 15.0, 18.0], [-0.18, -0.19, -0.20, -0.21, -0.22])

panel_points = [cpm_points, total_points, uq_points, tmm_points,
                deseq_points, linreg_points, cyclic_points, quantile_points]
panel_fits = [cpm_fit, total_fit, uq_fit, tmm_fit,
              deseq_fit, linreg_fit, cyclic_fit, quantile_fit]

# ---------------------------------------------------------------- layout
W, H = 1388, 590
FONT = "Liberation Sans, Arial, Helvetica, sans-serif"

# panel boxes in pixels: (left, right, top, bottom)
boxes = [
    (108, 385, 27.7, 229), (445.7, 720, 27.7, 229), (781.7, 1056, 27.7, 229), (1118.3, 1388, 27.7, 229),
    (108, 386, 303.5, 507), (445.7, 720, 303.5, 507), (781.7, 1056.7, 303.5, 507), (1118.3, 1388, 303.5, 507),
]
x_ranges = [
    [0.38, 17.9], [0.68, 18.5], [0.42, 17.8], [0.45, 17.56],
    [0.74, 18.7], [0.90, 18.4], [0.61, 18.55], [0.86, 18.38],
]
y_ranges = [[-1.889, 3.703]] * 4 + [[-1.950, 3.719]] * 4

fig = go.Figure()
layout = dict(
    width=W, height=H,
    margin=dict(l=0, r=0, t=0, b=0),
    paper_bgcolor="#fcfbfc", plot_bgcolor="#fcfbfc",
    showlegend=False,
    font=dict(family=FONT, color="#2b2b2b"),
)

annotations = []
for i in range(8):
    n = i + 1
    xa, ya = f"x{n}", f"y{n}"
    left, right, top, bottom = boxes[i]
    right_col = (i % 4 == 3)

    pts = panel_points[i]
    fig.add_trace(go.Scatter(
        x=[p[0] for p in pts], y=[p[1] for p in pts],
        mode="markers", xaxis=xa, yaxis=ya,
        marker=dict(size=3.6, color="#141414", line=dict(width=0)),
        hoverinfo="skip",
    ))
    fx, fy = panel_fits[i]
    fig.add_trace(go.Scatter(
        x=fx, y=fy, mode="lines", xaxis=xa, yaxis=ya,
        line=dict(color="#e3141b", width=2.6, shape="spline", smoothing=0.6),
        hoverinfo="skip",
    ))

    axis_common = dict(
        showline=True, linecolor="#333333", linewidth=1.6,
        ticks="outside", ticklen=7, tickwidth=1.4, tickcolor="#333333",
        tickfont=dict(family=FONT, size=20, color="#363636"),
        showgrid=False, fixedrange=True,
    )
    layout["xaxis" if n == 1 else f"xaxis{n}"] = dict(
        axis_common,
        domain=[left / W, right / W], anchor=ya,
        range=x_ranges[i], tickmode="array",
        tickvals=x_tick_vals, ticktext=x_tick_text,
        mirror=True, zeroline=False, ticklabelstandoff=6,
    )
    layout["yaxis" if n == 1 else f"yaxis{n}"] = dict(
        axis_common,
        domain=[1 - bottom / H, 1 - top / H], anchor=xa,
        range=y_ranges[i], tickmode="array",
        tickvals=y_tick_vals, ticktext=y_tick_text,
        mirror=(not right_col),
        zeroline=True, zerolinecolor="#c9c4bf", zerolinewidth=2.2,
        ticklabelstandoff=3,
    )
    annotations.append(dict(
        text=f"<b>{panel_titles[i]}</b>", xref="paper", yref="paper",
        x=((left + right) / 2) / W, y=1 - (top - 11.5) / H,
        xanchor="center", yanchor="middle", showarrow=False,
        font=dict(family=FONT, size=18, color="#222222"),
    ))

annotations += [
    dict(text="<b>variance ratio of log<sub>2</sub> counts</b>", xref="paper", yref="paper",
         x=27 / W, y=1 - 270 / H, textangle=-90, xanchor="center", yanchor="middle",
         showarrow=False, font=dict(family=FONT, size=27, color="#111111")),
    dict(text="<b>mean log<sub>2</sub> counts</b>", xref="paper", yref="paper",
         x=730 / W, y=1 - 572 / H, xanchor="center", yanchor="middle",
         showarrow=False, font=dict(family=FONT, size=26, color="#111111")),
    dict(text="<b>B</b>", xref="paper", yref="paper",
         x=26 / W, y=1 - 39 / H, xanchor="center", yanchor="middle",
         showarrow=False, font=dict(family=FONT, size=28, color="#111111")),
]
layout["annotations"] = annotations
fig.update_layout(**layout)

fig.write_html("out.html")
